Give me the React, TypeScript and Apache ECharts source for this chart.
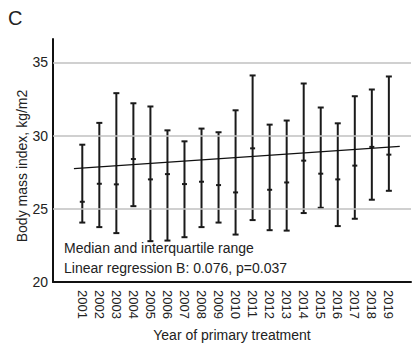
import React, { useEffect, useRef } from "react";
import * as echarts from "echarts";

const years = [2001, 2002, 2003, 2004, 2005, 2006, 2007, 2008, 2009, 2010, 2011, 2012, 2013, 2014, 2015, 2016, 2017, 2018, 2019];
const q1Values = [24.06, 23.75, 23.34, 25.18, 22.79, 22.83, 23.06, 23.75, 24.06, 23.24, 24.23, 23.54, 23.51, 24.71, 25.07, 23.82, 24.32, 25.62, 26.23];
const medianValues = [25.48, 26.71, 26.67, 28.4, 27.01, 27.37, 26.69, 26.85, 26.62, 26.12, 29.13, 26.3, 26.8, 28.29, 27.4, 27.01, 27.95, 29.23, 28.7];
const q3Values = [29.38, 30.87, 32.9, 32.21, 31.99, 30.36, 29.61, 30.48, 30.23, 31.73, 34.11, 30.75, 31.03, 33.56, 31.92, 30.84, 32.69, 33.15, 34.04];
const regressionX = [2000.51, 2019.64];
const regressionY = [27.74, 29.27];
const yTicks = [20, 25, 30, 35];
const gridValues = [25, 30, 35];

const FONT = "Liberation Sans, Arial, sans-serif";

export default function App() {
  const ref = useRef<HTMLDivElement>(null);
  useEffect(() => {
    if (!ref.current) return;
    const chart = echarts.init(ref.current, null, { renderer: "svg" });
    const barData = years.map((y, i) => [y, q1Values[i], medianValues[i], q3Values[i]]);
    chart.setOption({
      animation: false,
      backgroundColor: "#ffffff",
      textStyle: { fontFamily: FONT },
      grid: { left: 53, right: 1, top: 39, bottom: 64, outerBoundsMode: "none", containLabel: false },
      xAxis: {
        type: "value",
        min: 1999.28,
        max: 2020.3,
        name: "Year of primary treatment",
        nameLocation: "middle",
        nameGap: 46,
        nameTextStyle: { fontSize: 14, color: "#222", fontFamily: FONT },
        axisLine: { show: true, lineStyle: { color: "#111", width: 2 } },
        axisTick: { show: false },
        splitLine: { show: false },
        axisLabel: {
          customValues: years,
          rotate: -90,
          margin: 8,
          fontSize: 13,
          color: "#222",
          fontFamily: FONT,
          formatter: (v: number) => String(Math.round(v)),
        },
      },
      yAxis: {
        type: "value",
        min: 20,
        max: 36.6,
        axisLine: { show: true, lineStyle: { color: "#111", width: 2 } },
        axisTick: { show: false },
        splitLine: { show: false },
        axisLabel: {
          customValues: yTicks,
          margin: 5,
          fontSize: 14,
          color: "#222",
          fontFamily: FONT,
        },
      },
      graphic: [
        {
          type: "text",
          x: 8,
          y: 18,
          style: { text: "C", fontSize: 20, fill: "#222", fontFamily: FONT, verticalAlign: "middle" },
        },
        {
          type: "text",
          x: 22,
          y: 166,
          rotation: Math.PI / 2,
          style: {
            text: "Body mass index, kg/m2",
            fontSize: 14,
            fill: "#222",
            fontFamily: FONT,
            align: "center",
            verticalAlign: "middle",
          },
        },
        {
          type: "text",
          x: 64,
          y: 248,
          style: {
            text: "Median and interquartile range",
            fontSize: 14,
            fill: "#222",
            fontFamily: FONT,
            verticalAlign: "middle",
          },
        },
        {
          type: "text",
          x: 64,
          y: 268,
          style: {
            text: "Linear regression B: 0.076, p=0.037",
            fontSize: 14,
            fill: "#222",
            fontFamily: FONT,
            verticalAlign: "middle",
          },
        },
      ],
      series: [
        {
          type: "line",
          data: [],
          silent: true,
          markLine: {
            silent: true,
            symbol: ["none", "none"],
            label: { show: false },
            lineStyle: { color: "#c0c0c0", width: 1.5, type: "solid" },
            data: gridValues.map((v) => ({ yAxis: v })),
          },
        },
        {
          type: "custom",
          data: barData,
          encode: { x: 0, y: [1, 2, 3] },
          renderItem: (params: any, api: any) => {
            const x = api.value(0);
            const lo = api.coord([x, api.value(1)]);
            const md = api.coord([x, api.value(2)]);
            const hi = api.coord([x, api.value(3)]);
            const cx = lo[0];
            const capW = 3;
            const medW = 2.5;
            const style = { stroke: "#1a1a1a", lineWidth: 2 };
            return {
              type: "group",
              children: [
                { type: "line", shape: { x1: cx, y1: lo[1], x2: cx, y2: hi[1] }, style },
                { type: "line", shape: { x1: cx - capW, y1: lo[1], x2: cx + capW, y2: lo[1] }, style },
                { type: "line", shape: { x1: cx - capW, y1: hi[1], x2: cx + capW, y2: hi[1] }, style },
                { type: "line", shape: { x1: cx - medW, y1: md[1], x2: cx + medW, y2: md[1] }, style },
              ],
            };
          },
        },
        {
          type: "line",
          data: regressionX.map((x, i) => [x, regressionY[i]]),
          symbol: "none",
          lineStyle: { color: "#111", width: 1.3 },
        },
      ],
    });
    return () => chart.dispose();
  }, []);
  return <div ref={ref} style={{ position: "absolute", left: 0, top: 0, width: 412, height: 346 }} />;
}
